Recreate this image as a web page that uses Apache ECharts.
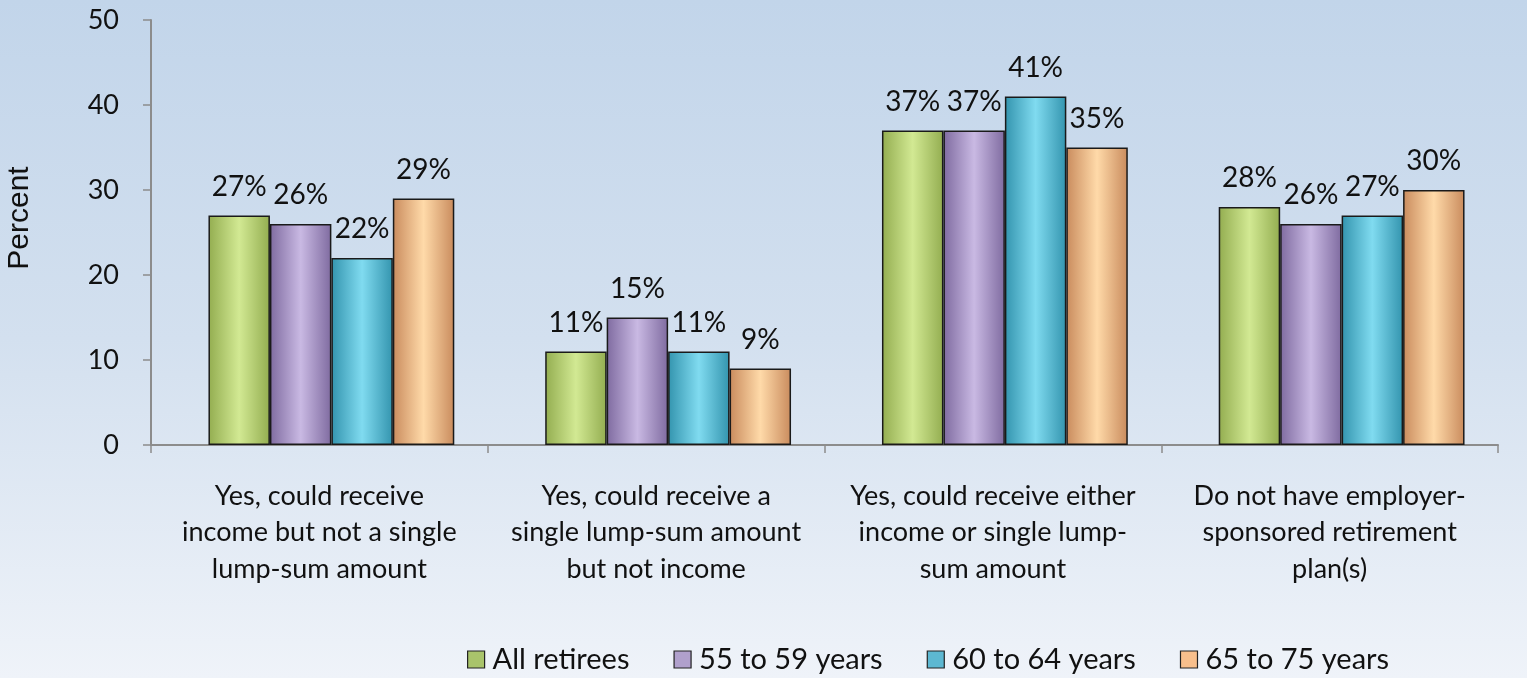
<!DOCTYPE html>
<html><head><meta charset="utf-8">
<script src="https://cdn.jsdelivr.net/npm/echarts@6/dist/echarts.min.js"></script>
<style>html,body{margin:0;padding:0;}#c{width:1527px;height:678px;}</style>
</head><body><div id="c"></div>
<script>
const categories = [
  "Yes, could receive\nincome but not a single\nlump-sum amount",
  "Yes, could receive a\nsingle lump-sum amount\nbut not income",
  "Yes, could receive either\nincome or single lump-\nsum amount",
  "Do not have employer-\nsponsored retirement\nplan(s)"
];
const seriesNames = ["All retirees", "55 to 59 years", "60 to 64 years", "65 to 75 years"];
const allRetirees = [27, 11, 37, 28];
const age55to59 = [26, 15, 37, 26];
const age60to64 = [22, 11, 41, 27];
const age65to75 = [29, 9, 35, 30];
const yTicks = [0, 10, 20, 30, 40, 50];

const values = [allRetirees, age55to59, age60to64, age65to75];
const palettes = [
  {edge:'#93ad50', mid:'#d2e993', legend:'#a9c46b'},
  {edge:'#7f6ba0', mid:'#c9b9e3', legend:'#b0a0cc'},
  {edge:'#3394ae', mid:'#80dbf0', legend:'#5db8d2'},
  {edge:'#c98b5d', mid:'#ffdaa9', legend:'#f8bf8c'}
];
const font = 'Lato, "Noto Sans", sans-serif';
function grad(p){
  return new echarts.graphic.LinearGradient(0,0,1,0,[
    {offset:0,color:p.edge},{offset:0.5,color:p.mid},{offset:1,color:p.edge}]);
}
const chart = echarts.init(document.getElementById('c'));
chart.setOption({
  backgroundColor: new echarts.graphic.LinearGradient(0,0,0,1,[
    {offset:0,color:'#c2d5ea'},{offset:0.5,color:'#d3e0ef'},{offset:1,color:'#eff3f9'}]),
  animation:false,
  grid:[
    {left:151,right:29,top:20,bottom:233},
    {left:163,right:17,top:20,bottom:233}
  ],
  legend:{
    data: seriesNames.map((n,i)=>({name:n,itemStyle:{color:palettes[i].legend,borderColor:'#222',borderWidth:1.2}})),
    top:640, left:462, itemWidth:17, itemHeight:17, itemGap:44,
    icon:'rect',
    textStyle:{fontFamily:font,fontSize:29,color:'#111',padding:[0,0,0,3]}
  },
  graphic:[{type:'text',x:20,y:218,rotation:Math.PI/2,
    style:{text:'Percent',font:'30px "Liberation Sans", Arial, sans-serif',fill:'#111',textAlign:'center',textVerticalAlign:'middle'}}],
  xAxis:[{
    type:'category', data:categories, gridIndex:0,
    axisLine:{lineStyle:{color:'#8c8c8c',width:2}},
    axisTick:{show:true,length:8,lineStyle:{color:'#8c8c8c',width:1.5}},
    axisLabel:{fontFamily:font,fontSize:27,color:'#111',lineHeight:36.5,margin:33,interval:0}
  },{
    type:'category', data:categories, gridIndex:1, show:false
  }],
  yAxis:[{
    type:'value', min:0, max:50, interval:10, gridIndex:0,
    axisLine:{show:true,lineStyle:{color:'#8c8c8c',width:2}},
    axisTick:{show:true,length:8,lineStyle:{color:'#8c8c8c',width:1.5}},
    splitLine:{show:false},
    axisLabel:{fontFamily:font,fontSize:27,color:'#111',margin:32,
      formatter:v=>yTicks.includes(v)?String(v):''}
  },{
    type:'value', min:0, max:50, interval:10, gridIndex:1, show:false, splitLine:{show:false}
  }],
  series: seriesNames.map((n,i)=>({
    name:n, type:'bar', data:values[i], xAxisIndex:1, yAxisIndex:1,
    barGap:'0%', barCategoryGap:'27%',
    itemStyle:{color:grad(palettes[i]),borderColor:'#1a1a1a',borderWidth:1.5},
    label:{show:true,position:'top',distance:15,formatter:'{c}%',fontFamily:font,fontSize:28,color:'#111'}
  }))
});
</script></body></html>
